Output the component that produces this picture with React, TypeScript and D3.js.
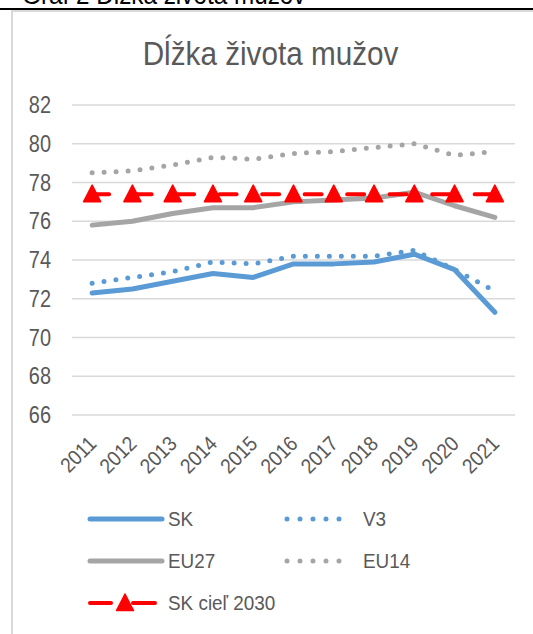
import React from "react";
import * as d3 from "d3";

const years = ["2011","2012","2013","2014","2015","2016","2017","2018","2019","2020","2021"];
const sk = [72.3, 72.5, 72.9, 73.3, 73.1, 73.8, 73.8, 73.9, 74.3, 73.5, 71.3];
const v3 = [72.8, 73.1, 73.4, 73.9, 73.8, 74.2, 74.2, 74.2, 74.5, 73.5, 72.4];
const eu27 = [75.8, 76.0, 76.4, 76.7, 76.7, 77.0, 77.1, 77.2, 77.5, 76.8, 76.2];
const eu14 = [78.5, 78.6, 78.9, 79.3, 79.2, 79.5, 79.6, 79.8, 80.0, 79.4, 79.6];
const skTarget = [77.4, 77.4, 77.4, 77.4, 77.4, 77.4, 77.4, 77.4, 77.4, 77.4, 77.4];
const yTicks = [66, 68, 70, 72, 74, 76, 78, 80, 82];

const FONT = "'Liberation Sans', Arial, sans-serif";
const TXT = "#595959";
const BLUE = "#5B9BD5";
const GRAY = "#A5A5A5";
const RED = "#FF0000";

type TProps = {
  x: number; y: number; size: number; fill?: string; anchor?: "start" | "middle" | "end";
  rotate?: number; baseline?: "central" | "auto"; sx?: number; children: React.ReactNode;
};
function T({ x, y, size, fill = TXT, anchor = "start", rotate = 0, baseline = "auto", sx = 0.9, children }: TProps) {
  return (
    <text
      transform={`translate(${x},${y}) rotate(${rotate}) scale(${sx},1)`}
      textAnchor={anchor}
      dominantBaseline={baseline}
      fontFamily={FONT}
      fontSize={size}
      fill={fill}
    >
      {children}
    </text>
  );
}

export default function App() {
  const W = 533, H = 634;
  const x = d3.scaleBand<string>().domain(years).range([72, 515]).padding(0);
  const cx = (yr: string) => (x(yr) as number) + x.bandwidth() / 2;
  const y = d3.scaleLinear().domain([66, 82]).range([415, 105]);
  const line = d3.line<number>().x((_, i) => cx(years[i])).y((d) => y(d));
  const tri = "M0,-9 L8.5,7.5 L-8.5,7.5 Z";

  return (
    <div style={{ position: "fixed", left: 0, top: 0, width: W, height: H, background: "#fff" }}>
      <svg width={W} height={H} style={{ display: "block" }}>
        <rect x={0} y={0} width={W} height={H} fill="#fff" />
        <T x={22} y={3.5} size={27} fill="#000">Graf 2 Dĺžka života mužov</T>
        <line x1={0} x2={W} y1={9} y2={9} stroke="#000" strokeWidth={2} />
        <rect x={12} y={11} width={W} height={H + 20} fill="none" stroke="#d9d9d9" strokeWidth={2} />
        <T x={270.5} y={65} size={33} anchor="middle">Dĺžka života mužov</T>

        {yTicks.map((t) => (
          <g key={t}>
            <line x1={72} x2={515} y1={y(t)} y2={y(t)} stroke="#d9d9d9" strokeWidth={1.5} />
            <T x={51} y={y(t)} size={24} sx={0.83} anchor="end" baseline="central">{t}</T>
          </g>
        ))}

        {years.map((yr) => (
          <T key={yr} x={cx(yr) + 5.5} y={445} size={21} anchor="end" rotate={-45}>{yr}</T>
        ))}

        <path d={line(eu14) || ""} fill="none" stroke={GRAY} strokeWidth={5} strokeDasharray="0 12" strokeLinecap="round" />
        <path d={line(eu27) || ""} fill="none" stroke={GRAY} strokeWidth={5} strokeLinejoin="round" strokeLinecap="round" />
        <path d={line(v3) || ""} fill="none" stroke={BLUE} strokeWidth={5} strokeDasharray="0 12" strokeLinecap="round" />
        <path d={line(sk) || ""} fill="none" stroke={BLUE} strokeWidth={5} strokeLinejoin="round" strokeLinecap="round" />
        <path d={line(skTarget) || ""} fill="none" stroke={RED} strokeWidth={4} strokeDasharray="17 25.5" strokeLinecap="round" />
        {skTarget.map((v, i) => (
          <path key={i} d={tri} transform={`translate(${cx(years[i])},${y(v)})`} fill={RED} stroke={RED} strokeWidth={1.5} strokeLinejoin="round" />
        ))}

        {/* legend */}
        <line x1={90} x2={162} y1={519} y2={519} stroke={BLUE} strokeWidth={5} strokeLinecap="round" />
        <T x={168} y={519} size={21} baseline="central">SK</T>
        <line x1={287} x2={352} y1={519} y2={519} stroke={BLUE} strokeWidth={5} strokeLinecap="round" strokeDasharray="0 13" />
        <T x={363} y={519} size={21} baseline="central">V3</T>
        <line x1={90} x2={162} y1={561} y2={561} stroke={GRAY} strokeWidth={5} strokeLinecap="round" />
        <T x={168} y={561} size={21} baseline="central">EU27</T>
        <line x1={287} x2={352} y1={561} y2={561} stroke={GRAY} strokeWidth={5} strokeLinecap="round" strokeDasharray="0 13" />
        <T x={363} y={561} size={21} baseline="central">EU14</T>
        <line x1={90} x2={111} y1={603} y2={603} stroke={RED} strokeWidth={4} strokeLinecap="round" />
        <line x1={133} x2={155} y1={603} y2={603} stroke={RED} strokeWidth={4} strokeLinecap="round" />
        <path d={tri} transform="translate(125,603)" fill={RED} stroke={RED} strokeWidth={1.5} strokeLinejoin="round" />
        <T x={168} y={603} size={21} baseline="central">SK cieľ 2030</T>
      </svg>
    </div>
  );
}
